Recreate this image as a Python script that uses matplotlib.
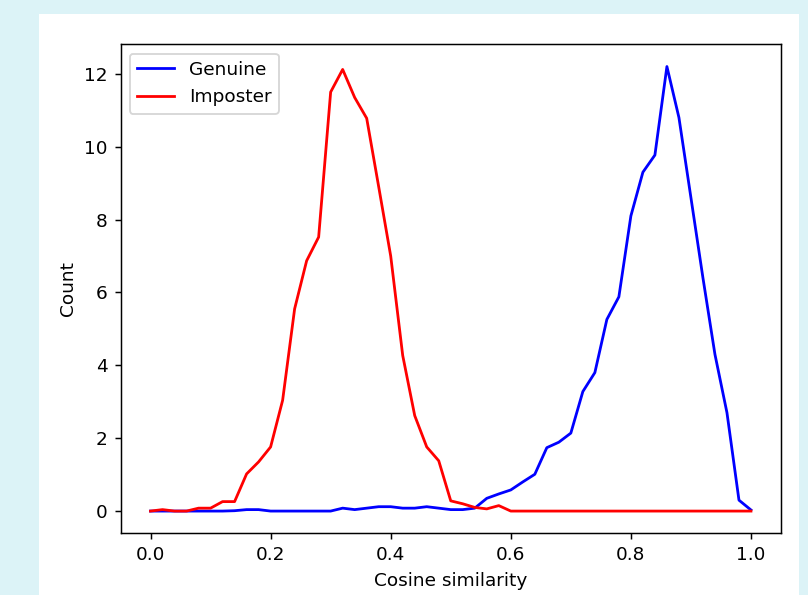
import numpy as np
import matplotlib
matplotlib.use('Agg')
import matplotlib.pyplot as plt
from matplotlib.patches import Rectangle

# similarity bins 0.00, 0.02, ..., 1.00
x = np.linspace(0.0, 1.0, 51)

genuine = [0, 0, 0, 0, 0, 0, 0, 0.01, 0.04, 0.04,
           0.0, 0.0, 0.0, 0.0, 0.0, 0.0, 0.08, 0.04, 0.08, 0.12,
           0.12, 0.08, 0.08, 0.12, 0.08, 0.04, 0.04, 0.08, 0.35, 0.47,
           0.58, 0.8, 1.01, 1.74, 1.89, 2.14, 3.28, 3.8, 5.26, 5.88,
           8.1, 9.3, 9.77, 12.2, 10.8, 8.6, 6.4, 4.3, 2.7, 0.3,
           0.03]

imposter = [0, 0.04, 0.0, 0.0, 0.08, 0.08, 0.26, 0.26, 1.02, 1.35,
            1.76, 3.04, 5.55, 6.87, 7.52, 11.5, 12.12, 11.35, 10.78, 8.9,
            7.0, 4.27, 2.62, 1.76, 1.38, 0.28, 0.2, 0.1, 0.06, 0.15,
            0, 0, 0, 0, 0, 0, 0, 0, 0, 0,
            0, 0, 0, 0, 0, 0, 0, 0, 0, 0,
            0]

fig = plt.figure(figsize=(6.06, 4.4625), dpi=400/3, facecolor='#dcf3f7')
fig.patches.append(Rectangle((39/808, 0), 760/808, 581/595, transform=fig.transFigure,
                             facecolor='white', edgecolor='none', zorder=-10))

ax = fig.add_axes([120.5/808, 1 - 533.3/595, 660.5/808, 489/595])
ax.set_zorder(1)
ax.plot(x, genuine, color='b', label='Genuine')
ax.plot(x, imposter, color='r', label='Imposter')
ax.set_xlabel('Cosine similarity')
ax.set_ylabel('Count')
ax.legend(loc='upper left')

fig.savefig('out.png', dpi=400/3, facecolor=fig.get_facecolor())
